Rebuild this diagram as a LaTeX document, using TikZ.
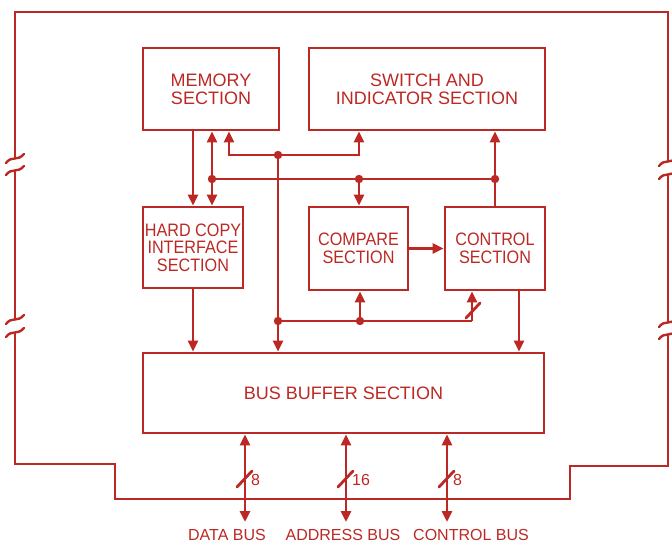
\documentclass[tikz,border=0pt]{standalone}
\usepackage{fontspec}
\setmainfont{Liberation Sans}
\newfontfamily\narrowfont{Liberation Sans}[FakeStretch=0.9]
\usetikzlibrary{arrows.meta,calc}
\definecolor{ink}{RGB}{188,40,36}
\begin{document}
\begin{tikzpicture}[x=1pt,y=-1pt,
  inkline/.style={draw=ink,line width=2.8pt},
  box/.style={draw=ink,line width=2.8pt,text=ink,align=center,inner sep=0pt,
    font=\fontsize{18}{18}\selectfont},
  narrowbox/.style={box,font=\fontsize{18}{17.5}\selectfont\narrowfont},
  arr/.style={inkline,-{Triangle[length=11pt,width=10pt]}},
  arrb/.style={inkline,{Triangle[length=11pt,width=10pt]}-{Triangle[length=11pt,width=10pt]}},
  lbl/.style={text=ink,font=\fontsize{16}{16}\selectfont,inner sep=0pt},
  brk/.style={draw=ink,line width=2.4pt,line cap=round},
  brkm/.pic={\draw[brk] (-9,4) .. controls (-3,-4) and (2,3) .. (9,-5);}]
\useasboundingbox (0,0) rectangle (672,544);

% boxes
\node[box,minimum width=136pt,minimum height=82pt] (memory) at (211,89) {MEMORY\\SECTION};
\node[box,minimum width=236pt,minimum height=82pt] (switch) at (427,89) {SWITCH AND\\INDICATOR SECTION};
\node[narrowbox,minimum width=100pt,minimum height=81pt] (hardcopy) at (193,247.5) {HARD COPY\\INTERFACE\\SECTION};
\node[narrowbox,minimum width=99pt,minimum height=83pt] (compare) at (358.5,248.5) {COMPARE\\SECTION};
\node[narrowbox,minimum width=100pt,minimum height=83pt] (control) at (495,248.5) {CONTROL\\SECTION};
\node[box,minimum width=401pt,minimum height=80pt] (bus) at (343.5,393) {BUS BUFFER SECTION};

% junctions and corners
\coordinate (hx) at (193,300);
\coordinate (jL) at (212,179);
\coordinate (jM) at (359,179);
\coordinate (jR) at (495,179);
\coordinate (jT) at (278,155);
\coordinate (cT) at (229,155);
\coordinate (cS) at (359,155);
\coordinate (jB) at (278,321);
\coordinate (jC) at (360,321);
\coordinate (cC) at (472,321);
\coordinate (cx) at (519,300);

% internal connectors
\draw[arr] (memory.south -| hx) -- (hardcopy.north -| hx);
\draw[arr] (hardcopy.south -| hx) -- (bus.north -| hx);
\draw[arr] (jL) -- (memory.south -| jL);
\draw[arr] (jL) -- (hardcopy.north -| jL);
\draw[arr] (jT) -- (cT) -- (memory.south -| cT);
\draw[arr] (jT) -- (cS) -- (switch.south -| cS);
\draw[inkline] (jL) -- (jR);
\draw[arr] (jM) -- (compare.north -| jM);
\draw[arr] (control.north -| jR) -- (switch.south -| jR);
\draw[arr] (jT) -- (bus.north -| jT);
\draw[inkline] (jB) -- (cC);
\draw[arr] (jC) -- (compare.south -| jC);
\draw[arr] (cC) -- (control.south -| cC);
\draw[inkline,line cap=round] ($(cC)+(-6,-3)$) -- ($(cC)+(8,-18)$);
\draw[arr] (compare.east) -- (control.west);
\draw[arr] (control.south -| cx) -- (bus.north -| cx);

% dots
\foreach \p in {jL,jM,jR,jT,jB,jC}
  \fill[ink] (\p) circle (4.2pt);

% outer loop
\coordinate (tl) at (15,12);
\coordinate (tr) at (668,12);
\coordinate (l1) at (15,464);
\coordinate (l2) at (115,464);
\coordinate (l3) at (115,499);
\coordinate (r3) at (570,499);
\coordinate (r2) at (570,466);
\coordinate (r1) at (668,466);
\draw[inkline] (15,159) -- (tl) -- (tr) -- (668,162);
\draw[inkline] (15,171) -- (15,320);
\draw[inkline] (15,333) -- (l1) -- (l2) -- (l3) -- (r3) -- (r2) -- (r1) -- (668,335);
\draw[inkline] (668,323) -- (668,175);
\pic at (15,159) {brkm};
\pic at (15,171) {brkm};
\pic at (15,320) {brkm};
\pic at (15,333) {brkm};
\pic at (668,162) {brkm};
\pic at (668,175) {brkm};
\pic at (668,323) {brkm};
\pic at (668,335) {brkm};

% external buses
\coordinate (d1) at (245,522);
\coordinate (d2) at (346,522);
\coordinate (d3) at (447,522);
\foreach \d in {d1,d2,d3}{
  \draw[arrb] (bus.south -| \d) -- (\d);
  \draw[inkline,line cap=round] ($(\d)+(-8,-35)$) -- ($(\d)+(7,-51)$);
}
\node[lbl,anchor=west] (n1) at (251,480) {8};
\node[lbl,anchor=west] (n2) at (352,480) {16};
\node[lbl,anchor=west] (n3) at (453,480) {8};
\node[lbl] (databus) at (227,535) {DATA BUS};
\node[lbl] (addrbus) at (343,535) {ADDRESS BUS};
\node[lbl] (ctrlbus) at (471,535) {CONTROL BUS};
\end{tikzpicture}
\end{document}
